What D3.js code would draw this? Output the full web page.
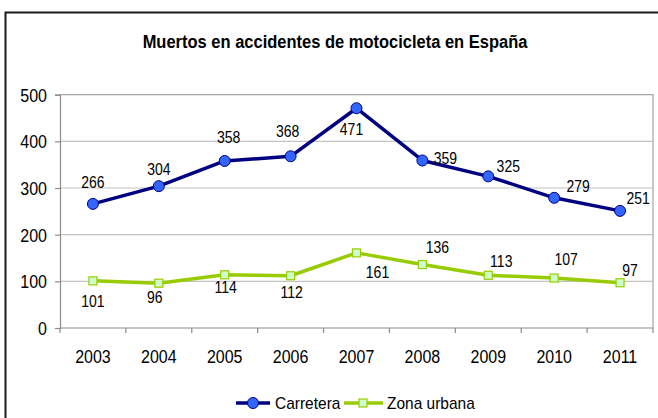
<!DOCTYPE html>
<html>
<head>
<meta charset="utf-8">
<script src="https://cdn.jsdelivr.net/npm/d3@7"></script>
<style>
  html, body { margin: 0; padding: 0; background: #fff; }
  svg { display: block; font-family: "Liberation Sans", Arial, sans-serif; }
</style>
</head>
<body>
<svg id="chart" width="658" height="418"></svg>
<script>
// Fatalities in motorcycle accidents in Spain, by year
const years = ["2003", "2004", "2005", "2006", "2007", "2008", "2009", "2010", "2011"];
const carretera = [266, 304, 358, 368, 471, 359, 325, 279, 251];
const zonaUrbana = [101, 96, 114, 112, 161, 136, 113, 107, 97];
const yTicks = [0, 100, 200, 300, 400, 500];
const seriesNames = ["Carretera", "Zona urbana"];
const title = "Muertos en accidentes de motocicleta en España";

const W = 658, H = 418;
const plot = { left: 60, right: 653, top: 94.7, bottom: 328 };
const STRETCH = 1.12; // text is drawn slightly taller than wide

const svg = d3.select("#chart");

// outer chart frame (runs off the right and bottom edges)
svg.append("rect")
  .attr("x", 5.5).attr("y", 12.5)
  .attr("width", 700).attr("height", 500)
  .attr("fill", "#fff").attr("stroke", "#1a1a1a").attr("stroke-width", 2);

const x = d3.scaleBand().domain(years).range([plot.left, plot.right]).padding(0);
const y = d3.scaleLinear().domain([0, 500]).range([plot.bottom, plot.top]);
const cx = d => x(d) + x.bandwidth() / 2;

function label(g, txt, px, py, opts = {}) {
  return g.append("text")
    .attr("transform", `translate(${px},${py}) scale(1,${STRETCH})`)
    .attr("text-anchor", opts.anchor || "middle")
    .attr("font-size", opts.size || 14)
    .attr("font-weight", opts.weight || "normal")
    .attr("fill", "#000")
    .text(txt);
}

// title
label(svg, title, 335, 48, { size: 16.5, weight: "bold" });

// gridlines
svg.append("g").selectAll("line")
  .data(yTicks.filter(t => t > 0 && t < 500))
  .join("line")
  .attr("x1", plot.left).attr("x2", plot.right)
  .attr("y1", d => y(d)).attr("y2", d => y(d))
  .attr("stroke", "#c3c3c3").attr("stroke-width", 1.2);

// plot area border (top and right)
svg.append("path")
  .attr("d", `M${plot.left},${y(500)}H${plot.right}V${plot.bottom}`)
  .attr("fill", "none").attr("stroke", "#a6a6a6").attr("stroke-width", 1.2);

// y axis
const yAxis = svg.append("g")
  .attr("transform", `translate(${plot.left},0)`)
  .call(d3.axisLeft(y).tickValues(yTicks).tickSize(5).tickPadding(8));
yAxis.select(".domain").attr("stroke", "#8c8c8c").attr("stroke-width", 1.2);
yAxis.selectAll(".tick line").attr("stroke", "#8c8c8c").attr("stroke-width", 1.2);
yAxis.selectAll(".tick text")
  .attr("font-size", 16).attr("font-family", "Liberation Sans, Arial, sans-serif")
  .attr("fill", "#000").attr("dy", "0.36em")
  .attr("transform", `scale(1,${STRETCH})`);

// x axis: ticks sit between categories
const xAxisG = svg.append("g");
xAxisG.append("line")
  .attr("x1", plot.left).attr("x2", plot.right)
  .attr("y1", plot.bottom).attr("y2", plot.bottom)
  .attr("stroke", "#8c8c8c").attr("stroke-width", 1.2);
const bounds = years.map(d => x(d)).concat([plot.right]);
xAxisG.selectAll("line.tk").data(bounds).join("line")
  .attr("class", "tk")
  .attr("x1", d => d).attr("x2", d => d)
  .attr("y1", plot.bottom).attr("y2", plot.bottom + 5)
  .attr("stroke", "#8c8c8c").attr("stroke-width", 1.2);
years.forEach(yr => label(xAxisG, yr, cx(yr), 363, { size: 16 }));

// series lines
const line = d3.line().x(d => cx(d.year)).y(d => y(d.value));
const carData = years.map((yr, i) => ({ year: yr, value: carretera[i] }));
const urbData = years.map((yr, i) => ({ year: yr, value: zonaUrbana[i] }));

const NAVY = "#000080", BLUE = "#3366ff";
const LIME = "#99cc00", PALE = "#ccffcc";

svg.append("path").datum(urbData)
  .attr("d", line).attr("fill", "none")
  .attr("stroke", LIME).attr("stroke-width", 3.5).attr("stroke-linejoin", "round");
svg.append("path").datum(carData)
  .attr("d", line).attr("fill", "none")
  .attr("stroke", NAVY).attr("stroke-width", 3.5).attr("stroke-linejoin", "round");

// markers
svg.append("g").selectAll("rect").data(urbData).join("rect")
  .attr("x", d => cx(d.year) - 4).attr("y", d => y(d.value) - 4)
  .attr("width", 8).attr("height", 8)
  .attr("fill", PALE).attr("stroke", LIME).attr("stroke-width", 1.2);
svg.append("g").selectAll("circle").data(carData).join("circle")
  .attr("cx", d => cx(d.year)).attr("cy", d => y(d.value)).attr("r", 5.5)
  .attr("fill", BLUE).attr("stroke", NAVY).attr("stroke-width", 1);

// data labels (placement offsets relative to each marker)
const carPlace = [[0, -16], [0, -11], [4, -18], [-3, -19], [-5, 27], [23, 4], [20, -4], [24, -6], [18, -7]];
const urbPlace = [[0, 26], [-4, 20], [1, 18], [1, 22], [21, 25], [15, -12], [13, -8], [12, -13], [10, -7]];
const labels = svg.append("g");
carData.forEach((d, i) => label(labels, d.value, cx(d.year) + carPlace[i][0], y(d.value) + carPlace[i][1]));
urbData.forEach((d, i) => label(labels, d.value, cx(d.year) + urbPlace[i][0], y(d.value) + urbPlace[i][1]));

// legend
const lg = svg.append("g");
const ly = 403;
lg.append("line").attr("x1", 236).attr("x2", 270).attr("y1", ly).attr("y2", ly)
  .attr("stroke", NAVY).attr("stroke-width", 3.5);
lg.append("circle").attr("cx", 253).attr("cy", ly).attr("r", 5.5)
  .attr("fill", BLUE).attr("stroke", NAVY).attr("stroke-width", 1);
label(lg, seriesNames[0], 275, ly + 6, { size: 15.5, anchor: "start" });
lg.append("line").attr("x1", 344).attr("x2", 383).attr("y1", ly).attr("y2", ly)
  .attr("stroke", LIME).attr("stroke-width", 3.5);
lg.append("rect").attr("x", 359).attr("y", ly - 4).attr("width", 8).attr("height", 8)
  .attr("fill", PALE).attr("stroke", LIME).attr("stroke-width", 1.2);
label(lg, seriesNames[1], 387, ly + 6, { size: 15.5, anchor: "start" });
</script>
</body>
</html>
